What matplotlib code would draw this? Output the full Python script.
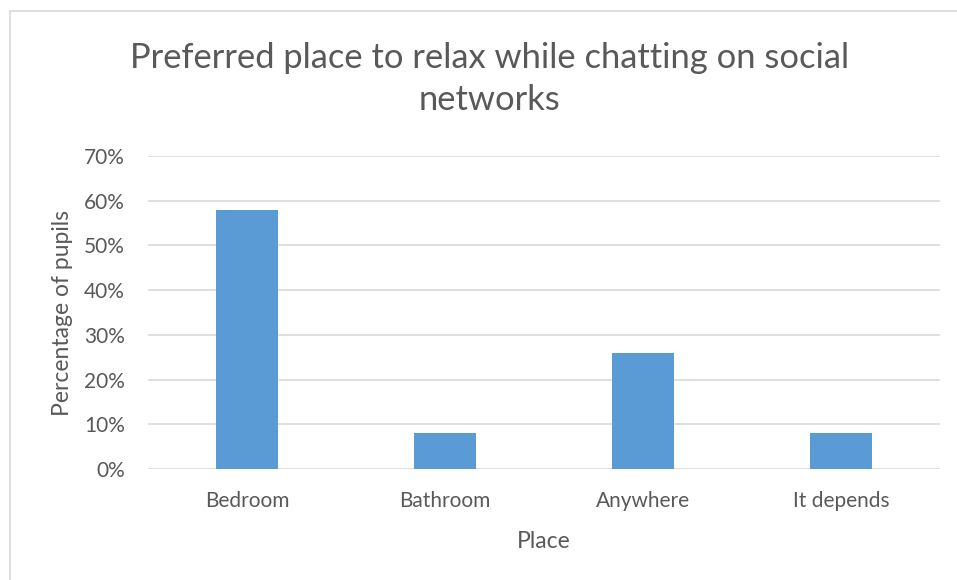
import matplotlib
matplotlib.use("Agg")
import matplotlib.pyplot as plt
from matplotlib.ticker import PercentFormatter, MultipleLocator
from matplotlib.lines import Line2D

places = ["Bedroom", "Bathroom", "Anywhere", "It depends"]
share = [58, 8, 26, 8]

txt = "#595959"
plt.rcParams['font.family'] = ['Lato', 'DejaVu Sans']

fig = plt.figure(figsize=(9.57, 5.80), dpi=100)
ax = fig.add_axes([148/957, 1 - 469/580, (940-148)/957, (469-156)/580])

ax.bar(range(len(places)), share, width=0.313, color="#5B9BD5", zorder=3)

ax.set_xlim(-0.5, len(places) - 0.5)
ax.set_ylim(0, 70)
ax.yaxis.set_major_locator(MultipleLocator(10))
ax.yaxis.set_major_formatter(PercentFormatter(decimals=0))
ax.grid(axis="y", color="#D9D9D9", linewidth=1.2, zorder=0)
for s in ax.spines.values():
    s.set_visible(False)
ax.tick_params(length=0, labelsize=15, colors=txt)
ax.tick_params(axis="y", pad=16.5)
ax.tick_params(axis="x", pad=16)
ax.set_xticks(range(len(places)))
ax.set_xticklabels(places)

ax.set_xlabel("Place", fontsize=16.5, color=txt, labelpad=14)
ax.set_ylabel("Percentage of pupils", fontsize=16.5, color=txt, labelpad=8)

fig.text(490/957, 1 - 79/580, "Preferred place to relax while chatting on social\nnetworks",
         ha="center", va="center", fontsize=24.8, color=txt, linespacing=1.35)

# chart frame (only top and left edges visible in the crop)
fig.add_artist(Line2D([10/957, 10/957], [0, 1 - 11/580], transform=fig.transFigure, color="#D9D9D9", lw=1.2))
fig.add_artist(Line2D([10/957, 1], [1 - 11/580, 1 - 11/580], transform=fig.transFigure, color="#D9D9D9", lw=1.2))

fig.savefig("out.png", dpi=100)
